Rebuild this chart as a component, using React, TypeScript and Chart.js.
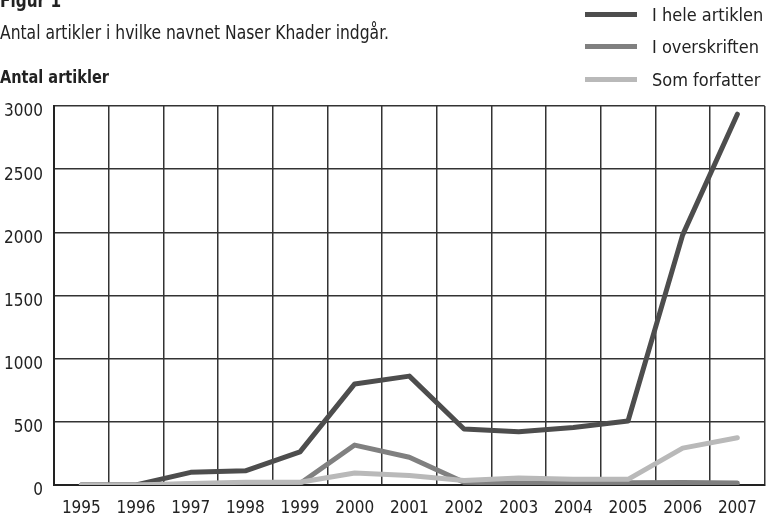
import React, { useEffect, useRef } from "react";
import { Chart, registerables } from "chart.js";

Chart.register(...registerables);

const years = ["1995", "1996", "1997", "1998", "1999", "2000", "2001", "2002", "2003", "2004", "2005", "2006", "2007"];
const heleArtiklen = [0, 0, 100, 112, 262, 800, 862, 443, 422, 455, 506, 1980, 2935];
const overskriften = [0, 0, 5, 5, 12, 316, 220, 22, 15, 15, 18, 20, 15];
const somForfatter = [0, 0, 12, 22, 22, 95, 75, 35, 55, 45, 45, 292, 374];
const yTicks = [0, 500, 1000, 1500, 2000, 2500, 3000];

const titleText = "Figur 1";
const subtitleText = "Antal artikler i hvilke navnet Naser Khader indgår.";
const axisTitle = "Antal artikler";

const seriesNames = ["I hele artiklen", "I overskriften", "Som forfatter"];
const seriesColors = ["#4d4d4d", "#808080", "#b9b9b9"];

const FONT = "'Liberation Sans Narrow', 'DejaVu Sans Condensed', sans-serif";

export default function App() {
  const ref = useRef<HTMLCanvasElement | null>(null);
  useEffect(() => {
    if (!ref.current) return;
    const seriesData = [heleArtiklen, overskriften, somForfatter];
    const order = [2, 1, 0];
    const chart = new Chart(ref.current, {
      type: "line",
      data: {
        labels: years,
        datasets: order.map((i) => ({
          label: seriesNames[i],
          data: seriesData[i],
          borderColor: seriesColors[i],
          backgroundColor: seriesColors[i],
          borderWidth: 5,
          pointRadius: 0,
          tension: 0,
          borderCapStyle: "round" as const,
          borderJoinStyle: "round" as const,
        })),
      },
      options: {
        animation: false,
        responsive: false,
        maintainAspectRatio: false,
        layout: { padding: { top: 106, right: 5, left: 0, bottom: 0 } },
        plugins: { legend: { display: false }, tooltip: { enabled: false } },
        scales: {
          x: {
            offset: true,
            grid: { offset: true, color: "#333", lineWidth: 1.5, drawTicks: false },
            border: { color: "#222", width: 2 },
            ticks: { color: "#222", font: { family: FONT, size: 17 }, padding: 13, maxRotation: 0, autoSkip: false },
            afterFit: (s: any) => { s.height = 36; },
          },
          y: {
            min: 0,
            max: 3000,
            afterBuildTicks: (s: any) => { s.ticks = yTicks.map((v) => ({ value: v })); },
            grid: { color: "#333", lineWidth: 1.5, drawTicks: false },
            border: { color: "#222", width: 2 },
            ticks: { color: "#222", font: { family: FONT, size: 17 }, padding: 11, labelOffset: 6, callback: (v: any) => String(v) },
            afterFit: (s: any) => { s.width = 54; },
          },
        },
      },
    });
    return () => chart.destroy();
  }, []);

  const narrow = (sx: number): React.CSSProperties => ({ transform: `scaleX(${sx})`, transformOrigin: "left center", whiteSpace: "nowrap" });

  return (
    <div style={{ position: "absolute", left: 0, top: 0, width: 770, height: 521, overflow: "hidden", background: "#fff", fontFamily: FONT, color: "#222" }}>
      <canvas ref={ref} width={770} height={521} style={{ position: "absolute", left: 0, top: 0 }} />
      <div style={{ position: "absolute", left: 0, top: -12, fontSize: 20, fontWeight: "bold", ...narrow(0.85) }}>{titleText}</div>
      <div style={{ position: "absolute", left: 0, top: 20, fontSize: 20, ...narrow(0.865) }}>{subtitleText}</div>
      <div style={{ position: "absolute", left: 0, top: 67, fontSize: 17, fontWeight: "bold", ...narrow(0.95) }}>{axisTitle}</div>
      {seriesNames.map((n, i) => (
        <div key={n} style={{ position: "absolute", left: 585, top: 3 + i * 32.5, height: 22, display: "flex", alignItems: "center" }}>
          <div style={{ width: 52, height: 5, background: seriesColors[i] }} />
          <span style={{ marginLeft: 15, fontSize: 18, whiteSpace: "nowrap" }}>{n}</span>
        </div>
      ))}
    </div>
  );
}
